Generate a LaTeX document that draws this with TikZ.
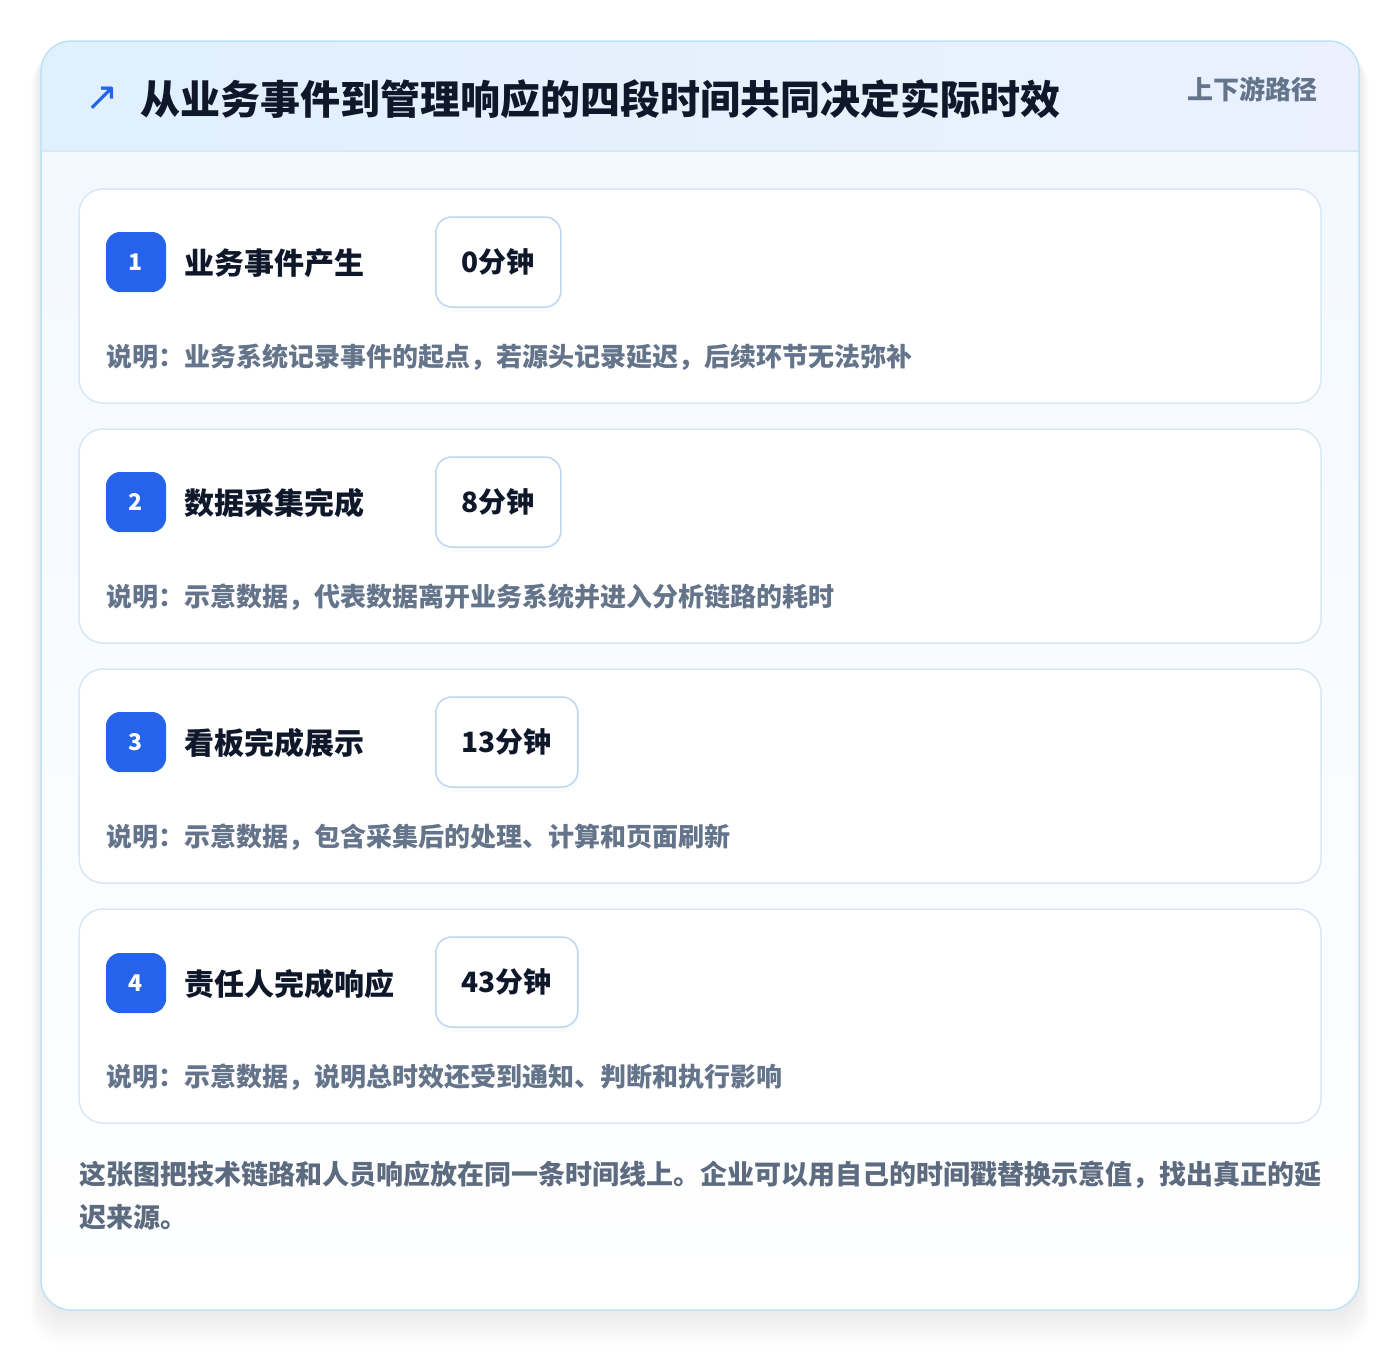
\documentclass[tikz,border=0pt]{standalone}
\usepackage{fontspec}
\setmainfont{Noto Sans CJK SC}
\newfontfamily\symfont{DejaVu Sans}
\usetikzlibrary{positioning,shadows}

\definecolor{brandblue}{HTML}{2563EB}
\definecolor{inkdark}{HTML}{0F172A}
\definecolor{mutedgray}{HTML}{64748B}
\definecolor{outerline}{HTML}{BDE3F7}
\definecolor{cardline}{HTML}{D9E8F6}
\definecolor{pillline}{HTML}{BFD6F0}
\definecolor{headleft}{HTML}{E0F0FD}
\definecolor{headright}{HTML}{EBF1FE}
\definecolor{bodytop}{HTML}{F2F8FF}

\tikzset{
  card/.style={draw=cardline, line width=1.5pt, rounded corners=24pt, top color=white, bottom color=white!97!bodytop,
    minimum width=1242pt, minimum height=214pt, inner sep=0pt},
  badge/.style={fill=brandblue, rounded corners=14pt, minimum size=60pt, inner sep=0pt,
    text=white, font=\bfseries\fontsize{23}{27}\selectfont},
  steptitle/.style={anchor=west, inner sep=0pt, text=inkdark, font=\bfseries\fontsize{30}{36}\selectfont},
  pill/.style={anchor=west, draw=pillline, line width=1.5pt, fill=white, rounded corners=16pt,
    minimum height=90pt, inner xsep=26pt, text=inkdark, font=\bfseries\fontsize{28}{34}\selectfont,
    drop shadow={opacity=0.035, shadow xshift=0pt, shadow yshift=-5pt}},
  note/.style={anchor=west, inner sep=0pt, text=mutedgray, font=\bfseries\fontsize{26}{32}\selectfont},
  footer/.style={anchor=west, inner sep=0pt, text=mutedgray!92!black, font=\bfseries\fontsize{27}{42}\selectfont}
}

\begin{document}
\begin{tikzpicture}[x=1pt, y=-1pt]
  \useasboundingbox[fill=white] (0,0) rectangle (1400,1352);

  % soft shadow of the panel
  \foreach \i in {1,...,10}
    \fill[black, opacity=0.008, rounded corners=30pt] (41-\i,45+\i) rectangle (1359+\i,1310+3.5*\i);

  % panel body and header band
  \fill[top color=bodytop, bottom color=white, rounded corners=30pt] (41,41) rectangle (1359,1310);
  \begin{scope}
    \clip[rounded corners=30pt] (41,41) rectangle (1359,1310);
    \fill[left color=headleft, right color=headright] (41,41) rectangle (1359,151);
    \draw[cardline, line width=1.5pt] (41,151) -- (1359,151);
  \end{scope}
  \draw[outerline, line width=1.5pt, rounded corners=30pt] (41,41) rectangle (1359,1310);

  \node[text=brandblue, font=\symfont\fontsize{40}{44}\selectfont] (icon) at (102,99) {↗};
  \node[anchor=west, inner sep=0pt, text=inkdark, font=\bfseries\fontsize{40}{48}\selectfont] (title) at (140,99)
    {从业务事件到管理响应的四段时间共同决定实际时效};
  \node[anchor=east, inner sep=0pt, text=mutedgray, font=\bfseries\fontsize{26}{32}\selectfont] (tag) at (1318,89) {上下游路径};

  % step 1
  \node[card] (card1) at (700,296) {};
  \node[badge] (num1) at (136,262) {1};
  \node[steptitle] (name1) at (184,263) {业务事件产生};
  \node[pill] (time1) at (435,262) {0分钟};
  \node[note] (note1) at (106,357) {说明：业务系统记录事件的起点，若源头记录延迟，后续环节无法弥补};

  % step 2
  \node[card] (card2) at (700,536) {};
  \node[badge] (num2) at (136,502) {2};
  \node[steptitle] (name2) at (184,503) {数据采集完成};
  \node[pill] (time2) at (435,502) {8分钟};
  \node[note] (note2) at (106,597) {说明：示意数据，代表数据离开业务系统并进入分析链路的耗时};

  % step 3
  \node[card] (card3) at (700,776) {};
  \node[badge] (num3) at (136,742) {3};
  \node[steptitle] (name3) at (184,743) {看板完成展示};
  \node[pill] (time3) at (435,742) {13分钟};
  \node[note] (note3) at (106,837) {说明：示意数据，包含采集后的处理、计算和页面刷新};

  % step 4
  \node[card] (card4) at (700,1016) {};
  \node[badge] (num4) at (136,983) {4};
  \node[steptitle] (name4) at (184,984) {责任人完成响应};
  \node[pill] (time4) at (435,982) {43分钟};
  \node[note] (note4) at (106,1077) {说明：示意数据，说明总时效还受到通知、判断和执行影响};

  % closing remark
  \node[footer] (foot1) at (79,1175) {这张图把技术链路和人员响应放在同一条时间线上。企业可以用自己的时间戳替换示意值，找出真正的延};
  \node[footer] (foot2) at (79,1217) {迟来源。};
\end{tikzpicture}
\end{document}
